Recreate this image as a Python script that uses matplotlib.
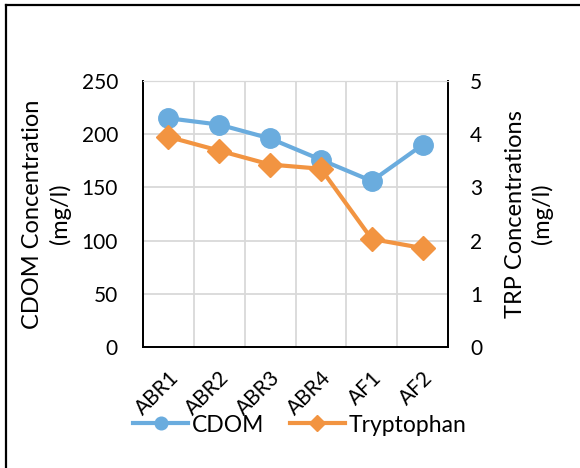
import matplotlib.pyplot as plt
from matplotlib.lines import Line2D

# data
sites = ["ABR1", "ABR2", "ABR3", "ABR4", "AF1", "AF2"]
cdom = [215, 209, 196, 176, 156, 190]          # mg/l, left axis
tryptophan = [3.95, 3.69, 3.43, 3.35, 2.03, 1.86]  # mg/l, right axis

blue = "#6AACDE"
orange = "#F29441"
grid_col = "#D9D9D9"

plt.rcParams["font.family"] = ["Lato", "DejaVu Sans"]

fig = plt.figure(figsize=(5.8, 4.68), dpi=100)
ax = fig.add_axes([143 / 580, 1 - 347 / 468, 305 / 580, 266 / 468])
ax2 = ax.twinx()

x = list(range(len(sites)))
l1, = ax.plot(x, cdom, color=blue, lw=3, marker="o", ms=14, zorder=3, label="CDOM")
l2, = ax2.plot(x, tryptophan, color=orange, lw=3, marker="D", ms=12, zorder=3, label="Tryptophan")

ax.set_xlim(-0.5, len(sites) - 0.5)
ax.set_ylim(0, 250)
ax2.set_ylim(0, 5)
ax.set_yticks([0, 50, 100, 150, 200, 250])
ax2.set_yticks([0, 1, 2, 3, 4, 5])

# gridlines: horizontal at ticks, vertical between categories
for v in [50, 100, 150, 200, 250]:
    ax.axhline(v, color=grid_col, lw=1.3, zorder=0)
for b in range(1, len(sites)):
    ax.axvline(b - 0.5, color=grid_col, lw=1.3, zorder=0)

ax.set_xticks(x)
ax.set_xticklabels(sites, rotation=45, ha="right", va="top", rotation_mode="anchor")
ax.tick_params(axis="x", length=0, pad=15, labelsize=15)
ax.tick_params(axis="y", length=0, pad=18, labelsize=15)
ax2.tick_params(axis="y", length=0, pad=16, labelsize=15)

for a in (ax, ax2):
    a.spines["top"].set_color(grid_col)
    for s in ("left", "right", "bottom"):
        a.spines[s].set_color("black")
        a.spines[s].set_linewidth(1.3)

ax.set_ylabel("CDOM Concentration\n(mg/l)", fontsize=17, labelpad=8, linespacing=1.3)
ax2.set_ylabel("TRP Concentrations\n(mg/l)", fontsize=17, labelpad=16, linespacing=1.3)

fig.legend(handles=[l1, l2], loc="center", bbox_to_anchor=(300 / 580, 1 - 425 / 468),
           ncol=2, frameon=False, fontsize=16.5, markerscale=0.65, handlelength=2.4,
           handletextpad=0.17, columnspacing=1.1)

# chart border (left and top edges visible)
fig.add_artist(Line2D([6 / 580, 6 / 580], [0, 1 - 5 / 468], transform=fig.transFigure,
                      color="black", lw=1.6))
fig.add_artist(Line2D([6 / 580, 1], [1 - 5 / 468, 1 - 5 / 468], transform=fig.transFigure,
                      color="black", lw=1.6))

fig.savefig("out.png", dpi=100)
